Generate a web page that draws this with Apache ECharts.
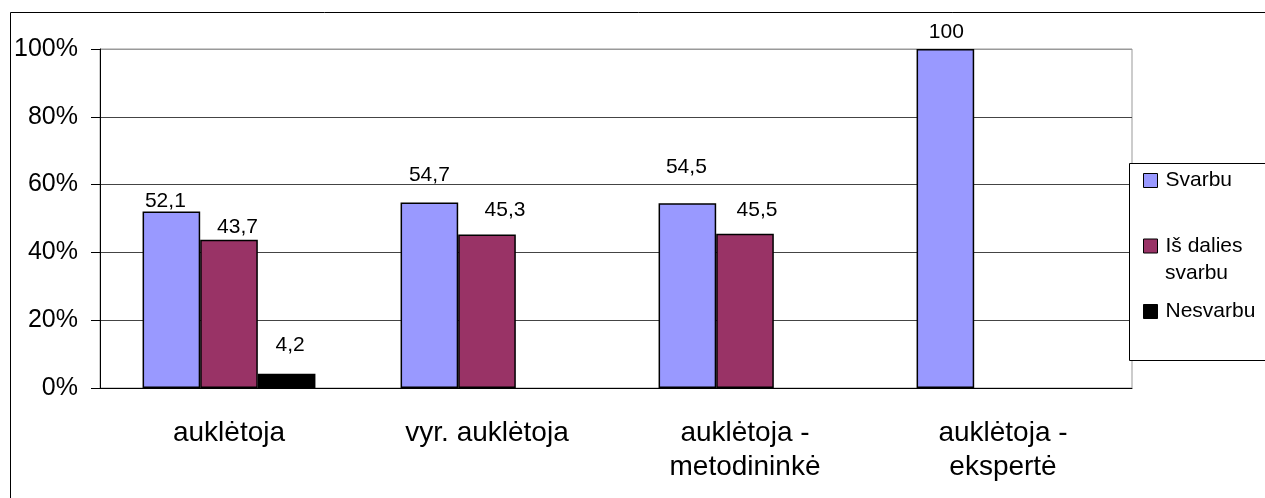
<!DOCTYPE html>
<html>
<head>
<meta charset="utf-8">
<style>
  html, body { margin: 0; padding: 0; background: #fff; }
  #chart { width: 1265px; height: 498px; }
</style>
<script src="https://cdn.jsdelivr.net/npm/echarts@6/dist/echarts.min.js"></script>
</head>
<body>
<div id="chart"></div>
<script>
// ---- data ----
const categories = ['auklėtoja', 'vyr. auklėtoja', 'auklėtoja -\nmetodininkė', 'auklėtoja -\nekspertė'];
const seriesNames = ['Svarbu', 'Iš dalies svarbu', 'Nesvarbu'];
const svarbu = [52.1, 54.7, 54.5, 100];
const isDalies = [43.7, 45.3, 45.5, null];
const nesvarbu = [4.2, null, null, null];
const yTicks = [0, 20, 40, 60, 80, 100];

// ---- styling ----
const FONT = 'Liberation Sans, Arial, sans-serif';
const colors = ['#9999FF', '#993366', '#000000'];
// per-label nudges (px) to mimic the original label placement
const labelNudges = [
  [[-6, 0], [0, -17], [-1, -26], [1, -7]],
  [[8.5, -2.5], [18, -14], [12, -14], [0, 0]],
  [[3.5, -19], [0, 0], [0, 0], [0, 0]]
];

function makeSeries(name, values, idx) {
  return {
    name: name,
    type: 'bar',
    barGap: '0%',
    barCategoryGap: '33%',
    itemStyle: { color: colors[idx], borderColor: '#000', borderWidth: 1.5 },
    data: values.map(function (v, i) {
      return {
        value: v,
        label: { offset: labelNudges[idx][i] }
      };
    }),
    label: {
      show: true,
      position: 'top',
      distance: 0,
      color: '#000',
      fontFamily: FONT,
      fontSize: 21,
      lineHeight: 20,
      formatter: function (p) {
        return p.value == null ? '' : String(p.value).replace('.', ',');
      }
    }
  };
}

const chart = echarts.init(document.getElementById('chart'));
chart.setOption({
  animation: false,
  backgroundColor: '#fff',
  grid: {
    left: 100, right: 133, top: 49, bottom: 110,
    show: true, borderColor: '#999', borderWidth: 1
  },
  xAxis: {
    type: 'category',
    data: categories,
    axisLine: { lineStyle: { color: '#000', width: 1 } },
    axisTick: { length: 10, lineStyle: { color: '#000' } },
    axisLabel: {
      color: '#000', fontFamily: FONT, fontSize: 28, lineHeight: 34, margin: 28
    }
  },
  yAxis: {
    type: 'value',
    min: yTicks[0],
    max: yTicks[yTicks.length - 1],
    interval: yTicks[1] - yTicks[0],
    axisLine: { show: true, lineStyle: { color: '#000', width: 1 } },
    axisTick: { show: true, length: 9, lineStyle: { color: '#000' } },
    axisLabel: {
      color: '#000', fontFamily: FONT, fontSize: 25, margin: 22,
      formatter: '{value}%'
    },
    splitLine: {
      show: true,
      lineStyle: { color: ['#000', '#444', '#444', '#444', '#444', '#999'], width: 1 }
    }
  },
  legend: {
    orient: 'vertical',
    left: 1143,
    top: 170,
    padding: 0,
    itemGap: 44.5,
    itemWidth: 14,
    itemHeight: 14,
    icon: 'rect',
    selectedMode: false,
    z: 20,
    data: seriesNames,
    itemStyle: { borderColor: '#000', borderWidth: 1 },
    textStyle: {
      color: '#000', fontFamily: FONT, fontSize: 21, lineHeight: 20,
      padding: [0, 0, 0, 3]
    },
    formatter: function (name) {
      return name === 'Iš dalies svarbu' ? 'Iš dalies' : name;
    }
  },
  graphic: [
    {
      type: 'rect', z: 0, silent: true,
      shape: { x: 10.5, y: 12.5, width: 1400, height: 700 },
      style: { fill: 'none', stroke: '#000', lineWidth: 1 }
    },
    {
      type: 'rect', z: 10, silent: true,
      shape: { x: 1129.5, y: 163.5, width: 200, height: 197 },
      style: { fill: '#fff', stroke: '#000', lineWidth: 1 }
    },
    {
      type: 'text', z: 21, silent: true,
      style: {
        text: 'svarbu', x: 1165, y: 273, verticalAlign: 'middle',
        fill: '#000', font: '21px ' + FONT
      }
    }
  ],
  series: [
    makeSeries(seriesNames[0], svarbu, 0),
    makeSeries(seriesNames[1], isDalies, 1),
    makeSeries(seriesNames[2], nesvarbu, 2)
  ]
});
</script>
</body>
</html>
